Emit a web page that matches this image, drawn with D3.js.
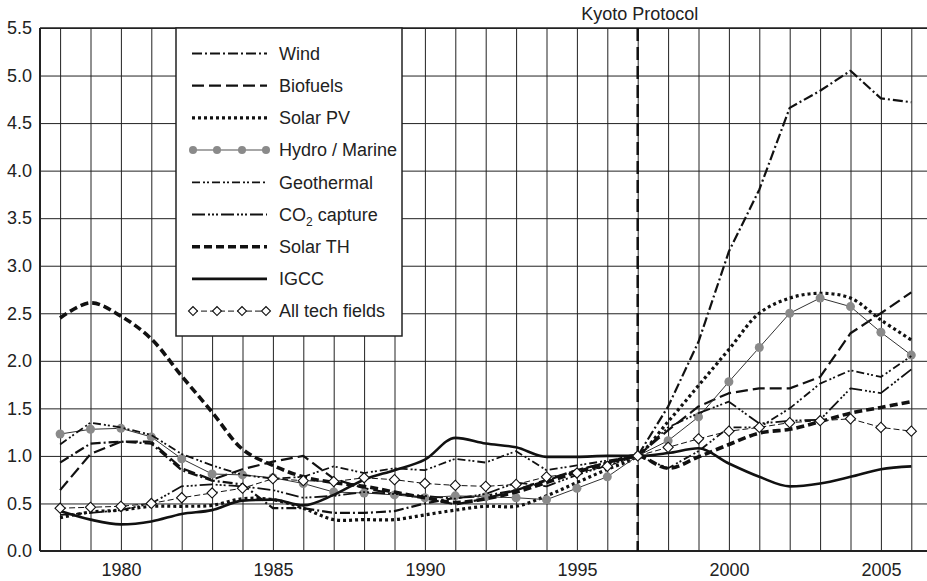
<!DOCTYPE html>
<html>
<head>
<meta charset="utf-8">
<script src="https://cdn.jsdelivr.net/npm/d3@7"></script>
<style>
  body { margin: 0; background: #fff; }
  text { font-family: Arial, "Liberation Sans", sans-serif; fill: #222; }
</style>
</head>
<body>
<div id="chart"></div>
<script>
// values
const years = d3.range(1978, 2007);
const yTicks = [0, 0.5, 1, 1.5, 2, 2.5, 3, 3.5, 4, 4.5, 5, 5.5];
const xLabels = [1980, 1985, 1990, 1995, 2000, 2005];

const wind       = [0.93,1.13,1.15,1.13,0.85,0.74,0.70,0.45,0.45,0.40,0.40,0.42,0.50,0.56,0.58,0.64,0.74,0.85,0.93,1.00,1.52,2.20,3.15,3.80,4.66,4.84,5.05,4.76,4.72];
const biofuels   = [0.64,1.02,1.15,1.15,0.87,0.75,0.86,0.94,1.00,0.76,0.66,0.60,0.56,0.49,0.55,0.64,0.75,0.85,0.93,1.00,1.27,1.52,1.66,1.71,1.71,1.83,2.29,2.50,2.72];
const solarPV    = [0.35,0.41,0.43,0.47,0.47,0.48,0.55,0.54,0.45,0.33,0.33,0.33,0.38,0.43,0.47,0.47,0.58,0.72,0.86,1.00,1.36,1.74,2.12,2.50,2.66,2.71,2.66,2.43,2.22];
const hydro      = [1.23,1.28,1.29,1.20,0.97,0.81,0.80,0.77,0.71,0.62,0.61,0.59,0.56,0.58,0.57,0.56,0.54,0.66,0.78,1.00,1.16,1.41,1.78,2.14,2.50,2.66,2.57,2.30,2.06];
const geothermal = [1.12,1.35,1.30,1.22,1.02,0.90,0.80,0.76,0.78,0.89,0.82,0.87,0.85,0.97,0.93,1.05,0.85,0.90,0.95,1.00,0.87,1.05,1.30,1.30,1.50,1.76,1.90,1.83,2.05];
const co2        = [0.38,0.40,0.43,0.50,0.68,0.70,0.68,0.64,0.56,0.58,0.62,0.60,0.58,0.55,0.60,0.72,0.68,0.80,0.90,1.00,1.30,1.45,1.57,1.34,1.37,1.38,1.71,1.66,1.91];
const solarTH    = [2.45,2.61,2.47,2.23,1.84,1.46,1.07,0.90,0.78,0.72,0.68,0.62,0.56,0.51,0.55,0.62,0.72,0.83,0.92,1.00,0.87,0.99,1.12,1.24,1.28,1.36,1.45,1.51,1.57];
const igcc       = [0.42,0.33,0.28,0.31,0.39,0.43,0.53,0.54,0.48,0.59,0.75,0.85,0.96,1.19,1.13,1.09,0.99,0.99,1.00,1.00,1.03,1.08,0.92,0.78,0.68,0.71,0.78,0.86,0.89];
const allTech    = [0.45,0.46,0.47,0.50,0.56,0.61,0.66,0.76,0.74,0.73,0.77,0.75,0.71,0.69,0.68,0.70,0.78,0.82,0.89,1.00,1.09,1.18,1.26,1.30,1.35,1.37,1.39,1.30,1.26];

const W = 927, H = 581;
const plotLeft = 40, plotRight = 927, plotTop = 28, plotBottom = 551;

const series = [
  { name: 'Wind',            values: wind,       width: 2.2, dash: '10,3,2,3',         curve: d3.curveLinear },
  { name: 'Biofuels',        values: biofuels,   width: 2.2, dash: '12,5',             curve: d3.curveLinear },
  { name: 'Solar PV',        values: solarPV,    width: 3.2, dash: '3,3',              curve: d3.curveCatmullRom },
  { name: 'Hydro / Marine',  values: hydro,      width: 1,   dash: null, marker: 'dot', curve: d3.curveLinear },
  { name: 'Geothermal',      values: geothermal, width: 1.8, dash: '8,3,2,2,2,3',      curve: d3.curveLinear },
  { name: 'CO2 capture',     values: co2,        width: 1.8, dash: '13,3,2,2,2,2,2,3', curve: d3.curveLinear },
  { name: 'Solar TH',        values: solarTH,    width: 3.6, dash: '8,4',              curve: d3.curveCatmullRom },
  { name: 'IGCC',            values: igcc,       width: 2.6, dash: null,               curve: d3.curveMonotoneX },
  { name: 'All tech fields', values: allTech,    width: 1,   dash: '6,3', marker: 'diamond', curve: d3.curveLinear }
];

const svg = d3.select('#chart').append('svg')
    .attr('width', W)
    .attr('height', H);

const x = d3.scaleLinear().domain([1978, 2006]).range([60.1, 911.3]);
const y = d3.scaleLinear().domain([0, 5.5]).range([plotBottom, plotTop]);

// grid + y labels
const yAxis = svg.append('g')
    .attr('transform', 'translate(' + plotLeft + ',0)')
    .call(d3.axisLeft(y).tickValues(yTicks).tickFormat(d3.format('.1f'))
        .tickSize(-(plotRight - plotLeft)).tickPadding(8));
yAxis.select('.domain').remove();
yAxis.selectAll('line').attr('stroke', '#222').attr('stroke-width', 1);
yAxis.selectAll('text').style('font-size', '18px').attr('fill', '#222');

// grid + x labels
const xAxis = svg.append('g')
    .attr('transform', 'translate(0,' + plotBottom + ')')
    .call(d3.axisBottom(x).tickValues(years)
        .tickFormat(d => xLabels.includes(d) ? d : '')
        .tickSize(-(plotBottom - plotTop)).tickPadding(12));
xAxis.select('.domain').remove();
xAxis.selectAll('line').attr('stroke', '#222').attr('stroke-width', 1);
xAxis.selectAll('text').style('font-size', '18px').attr('fill', '#222');

// frame
svg.append('line').attr('x1', plotLeft).attr('x2', plotLeft).attr('y1', plotTop).attr('y2', plotBottom)
    .attr('stroke', '#222').attr('stroke-width', 2);
svg.append('line').attr('x1', plotLeft).attr('x2', plotRight).attr('y1', plotBottom).attr('y2', plotBottom)
    .attr('stroke', '#222').attr('stroke-width', 2);
svg.append('line').attr('x1', plotLeft).attr('x2', plotRight).attr('y1', plotTop).attr('y2', plotTop)
    .attr('stroke', '#222').attr('stroke-width', 1.5);

// Kyoto line
svg.append('line')
    .attr('x1', x(1997)).attr('x2', x(1997))
    .attr('y1', plotTop).attr('y2', plotBottom)
    .attr('stroke', '#111').attr('stroke-width', 2.5)
    .attr('stroke-dasharray', '13,6');
svg.append('text')
    .attr('x', x(1997) + 2).attr('y', 20)
    .attr('text-anchor', 'middle')
    .style('font-size', '18px')
    .text('Kyoto Protocol');

// legend box
const lg = svg.append('g');
lg.append('rect')
    .attr('x', 176).attr('y', plotTop)
    .attr('width', 226).attr('height', 308)
    .attr('fill', '#fff').attr('stroke', '#222').attr('stroke-width', 1.5);

// series
series.forEach(s => {
  const line = d3.line()
      .x((d, i) => x(years[i]))
      .y(d => y(d))
      .curve(s.curve);
  svg.append('path')
      .datum(s.values)
      .attr('fill', 'none')
      .attr('stroke', s.marker === 'dot' ? '#333' : '#111')
      .attr('stroke-width', s.width)
      .attr('stroke-dasharray', s.dash)
      .attr('stroke-linejoin', 'round')
      .attr('d', line);
  if (s.marker === 'dot') {
    svg.selectAll(null).data(s.values).enter().append('circle')
        .attr('cx', (d, i) => x(years[i]))
        .attr('cy', d => y(d))
        .attr('r', 4.5)
        .attr('fill', '#8a8a8a');
  }
  if (s.marker === 'diamond') {
    svg.selectAll(null).data(s.values).enter().append('path')
        .attr('d', d3.symbol(d3.symbolSquare, 52))
        .attr('transform', (d, i) => 'translate(' + x(years[i]) + ',' + y(d) + ') rotate(45)')
        .attr('fill', '#fff')
        .attr('stroke', '#111')
        .attr('stroke-width', 1.1);
  }
});

// legend entries
series.forEach((s, i) => {
  const cy = 53.5 + i * 32.2;
  const g = lg.append('g');
  g.append('line')
      .attr('x1', 192).attr('x2', 267).attr('y1', cy).attr('y2', cy)
      .attr('stroke', s.marker === 'dot' ? '#8a8a8a' : '#111')
      .attr('stroke-width', s.marker === 'dot' ? 1.5 : s.width)
      .attr('stroke-dasharray', s.dash);
  if (s.marker) {
    [193, 217, 242, 266].forEach(mx => {
      if (s.marker === 'dot') {
        g.append('circle').attr('cx', mx).attr('cy', cy).attr('r', 4).attr('fill', '#8a8a8a');
      } else {
        g.append('path').attr('d', d3.symbol(d3.symbolSquare, 40))
            .attr('transform', 'translate(' + mx + ',' + cy + ') rotate(45)')
            .attr('fill', '#fff').attr('stroke', '#111').attr('stroke-width', 1.1);
      }
    });
  }
  const t = g.append('text')
      .attr('x', 279).attr('y', cy)
      .attr('dy', '0.35em')
      .style('font-size', '18px');
  if (s.name === 'CO2 capture') {
    t.append('tspan').text('CO');
    t.append('tspan').attr('dy', '5').style('font-size', '12px').text('2');
    t.append('tspan').attr('dy', '-5').text(' capture');
  } else {
    t.text(s.name);
  }
});
</script>
</body>
</html>
